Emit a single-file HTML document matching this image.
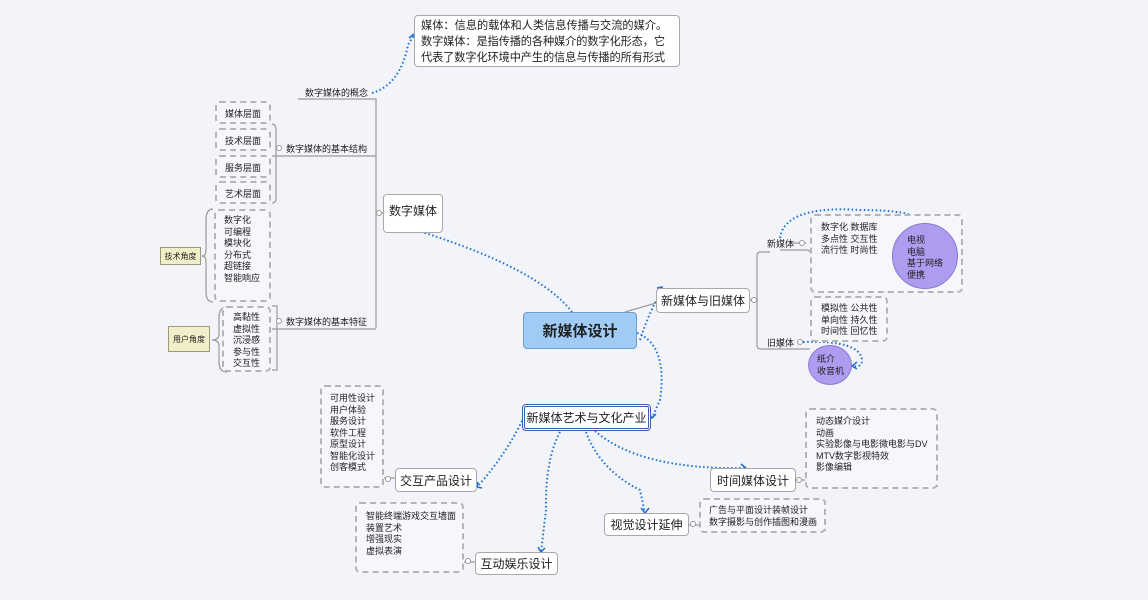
<!DOCTYPE html>
<html><head><meta charset="utf-8"><style>
body{margin:0;width:1148px;height:600px;background:#f3f4f9;position:relative;overflow:hidden;font-family:"Liberation Sans","Noto Sans CJK SC",sans-serif;color:#222}
.a{position:absolute;box-sizing:border-box}
.box{background:#fff;border:1px solid #a8a8a8;border-radius:4px;font-size:12px;white-space:nowrap;display:flex;align-items:center;justify-content:center}
.dash{border:2px dashed #b5b5b5;border-radius:5px;background:#f6f7fb}
.t{font-size:9px;line-height:11.5px;white-space:nowrap}
.s{font-size:9px;white-space:nowrap}
.tag{background:#f2efc8;border:1px solid #9a9a7a;font-size:8px;display:flex;align-items:center;justify-content:center}
.circ{background:#ae9cf0;border:1px solid #8a7ad0;border-radius:50%;font-size:9px;line-height:11.5px}
</style></head><body>
<svg class="a" style="left:0;top:0" width="1148" height="600">
<g fill="none" stroke="#9a9a9a" stroke-width="1.2">
<path d="M298 99 H376 V328 M272 156 H376 M272 329 H376 M376 213 H383"/>
<path d="M625 312 L656 303"/>
<path d="M750 300 H757 M770 252 H760 Q757 252 757 256 V345 Q757 349 761 349 H810 M780 250 H806 Q810 250 812 254 H908 M780 349 V340 M790 243 H806"/>
<path d="M213 209 Q206 209 206 220 V250 Q206 256 202 256 Q206 256 206 262 V292 Q206 302 213 302"/>
<path d="M227 307 Q219 307 219 318 V334 Q219 340 212 340 Q219 340 219 346 V362 Q219 372 227 372"/>
<path d="M272 124 Q276 124 276 130 V199 Q276 203 272 203"/>
<path d="M272 306 H277 V370 H272"/>
<path d="M384 478 H395 M330 484 H384 M464 562 H475 M365 567 H464 M689 525 H699 M706 530 H826 M796 480 H805 M810 486 H938"/>
</g>
<g fill="#fff" stroke="#999" stroke-width="1">
<circle cx="379" cy="213" r="2.5"/><circle cx="279" cy="148" r="2.5"/><circle cx="279" cy="321" r="2.5"/>
<circle cx="754" cy="300" r="2.5"/><circle cx="802" cy="243" r="2.5"/><circle cx="800" cy="342" r="2.5"/><circle cx="885" cy="237" r="2.5"/>
<circle cx="388" cy="479" r="2.5"/><circle cx="468" cy="561" r="2.5"/><circle cx="693" cy="524" r="2.5"/><circle cx="799" cy="480" r="2.5"/>
</g>
<g fill="none" stroke="#1a6fd8" stroke-width="2" stroke-dasharray="1.5 2.5">
<path d="M372 93 Q400 85 408 45 L414 35"/>
<path d="M572 312 Q540 270 425 233"/>
<path d="M640 340 Q650 310 662 290"/>
<path d="M637 333 Q668 345 660 400 L652 418"/>
<path d="M780 238 Q785 205 860 210 Q915 210 922 222"/>
<path d="M803 342 Q860 340 862 360 Q862 368 852 366"/>
<path d="M527 410 Q510 450 477 487"/>
<path d="M560 432 Q545 460 546 510 L541 552"/>
<path d="M586 432 Q600 470 640 490 L645 513"/>
<path d="M595 431 Q640 470 745 468"/>
</g>
<g fill="none" stroke="#1a6fd8" stroke-width="1.5">
<path d="M409 38 L414 34 L415 41"/><path d="M422 229 L425 233 L430 230"/><path d="M657 288 L662 287 L662 293"/>
<path d="M649 413 L652 418 L656 414"/><path d="M918 218 L922 223 L926 218"/><path d="M857 362 L852 366 L857 369"/>
<path d="M478 482 L477 487 L482 488"/><path d="M538 547 L541 552 L545 548"/><path d="M641 508 L645 513 L649 508"/><path d="M741 464 L746 468 L742 472"/>
</g>
</svg>

<div class="a box" style="left:414px;top:15px;width:266px;height:52px;display:block;padding:2px 4px 0 6px;font-size:11.2px;line-height:16px;white-space:normal"><span style="white-space:nowrap">媒体：信息的载体和人类信息传播与交流的媒介。</span><br><span style="letter-spacing:-0.1px">数字媒体：是指传播的各种媒介的数字化形态，它代表了数字化环境中产生的信息与传播的所有形式</span></div>

<div class="a s" style="left:305px;top:86px">数字媒体的概念</div>
<div class="a s" style="left:286px;top:142px">数字媒体的基本结构</div>
<div class="a s" style="left:286px;top:315px">数字媒体的基本特征</div>
<div class="a box" style="left:383px;top:194px;width:60px;height:39px;align-items:flex-start;padding-top:7px">数字媒体</div>

<div class="a dash s" style="left:215px;top:101px;width:56px;height:23px;padding:4px 0 0 8px">媒体层面</div>
<div class="a dash s" style="left:215px;top:128px;width:56px;height:23px;padding:4px 0 0 8px">技术层面</div>
<div class="a dash s" style="left:215px;top:155px;width:56px;height:23px;padding:4px 0 0 8px">服务层面</div>
<div class="a dash s" style="left:215px;top:181px;width:56px;height:23px;padding:4px 0 0 8px">艺术层面</div>
<div class="a dash t" style="left:214px;top:209px;width:57px;height:93px;padding:4px 0 0 8px">数字化<br>可编程<br>模块化<br>分布式<br>超链接<br>智能响应</div>
<div class="a dash t" style="left:222px;top:306px;width:49px;height:66px;padding:4px 0 0 9px">高黏性<br>虚拟性<br>沉浸感<br>参与性<br>交互性</div>
<div class="a tag" style="left:160px;top:247px;width:41px;height:18px">技术角度</div>
<div class="a tag" style="left:168px;top:326px;width:42px;height:26px">用户角度</div>

<div class="a" style="left:523px;top:312px;width:114px;height:37px;background:#9fcbf5;border:1px solid #6a9fd0;border-radius:4px;font-size:15px;font-weight:bold;display:flex;align-items:center;justify-content:center">新媒体设计</div>

<div class="a box" style="left:656px;top:288px;width:94px;height:25px">新媒体与旧媒体</div>
<div class="a s" style="left:767px;top:237px">新媒体</div>
<div class="a s" style="left:767px;top:336px">旧媒体</div>
<div class="a dash t" style="left:810px;top:214px;width:153px;height:79px;padding:6px 0 0 9px">数字化 数据库<br>多点性 交互性<br>流行性 时尚性</div>
<div class="a circ" style="left:892px;top:223px;width:66px;height:66px;padding:11px 0 0 14px">电视<br>电脑<br>基于网络<br>便携</div>
<div class="a dash t" style="left:810px;top:296px;width:78px;height:46px;padding:5px 0 0 9px">模拟性 公共性<br>单向性 持久性<br>时间性 回忆性</div>
<div class="a circ" style="left:808px;top:345px;width:44px;height:40px;padding:8px 0 0 8px">纸介<br>收音机</div>

<div class="a box" style="left:522px;top:404px;width:129px;height:27px;border:3px double #3d5fae">新媒体艺术与文化产业</div>

<div class="a dash t" style="left:320px;top:385px;width:64px;height:103px;padding:6px 0 0 8px">可用性设计<br>用户体验<br>服务设计<br>软件工程<br>原型设计<br>智能化设计<br>创客模式</div>
<div class="a box" style="left:395px;top:468px;width:82px;height:24px">交互产品设计</div>
<div class="a dash t" style="left:355px;top:502px;width:109px;height:71px;padding:7px 0 0 9px">智能终端游戏交互墙面<br>装置艺术<br>增强现实<br>虚拟表演</div>
<div class="a box" style="left:475px;top:552px;width:83px;height:23px">互动娱乐设计</div>
<div class="a box" style="left:604px;top:513px;width:85px;height:23px">视觉设计延伸</div>
<div class="a dash t" style="left:699px;top:498px;width:127px;height:35px;padding:5px 0 0 8px">广告与平面设计装帧设计<br>数字摄影与创作插图和漫画</div>
<div class="a box" style="left:710px;top:468px;width:86px;height:24px">时间媒体设计</div>
<div class="a dash t" style="left:805px;top:408px;width:133px;height:81px;padding:6px 0 0 9px">动态媒介设计<br>动画<br>实验影像与电影微电影与DV<br>MTV数字影视特效<br>影像编辑</div>
</body></html>
